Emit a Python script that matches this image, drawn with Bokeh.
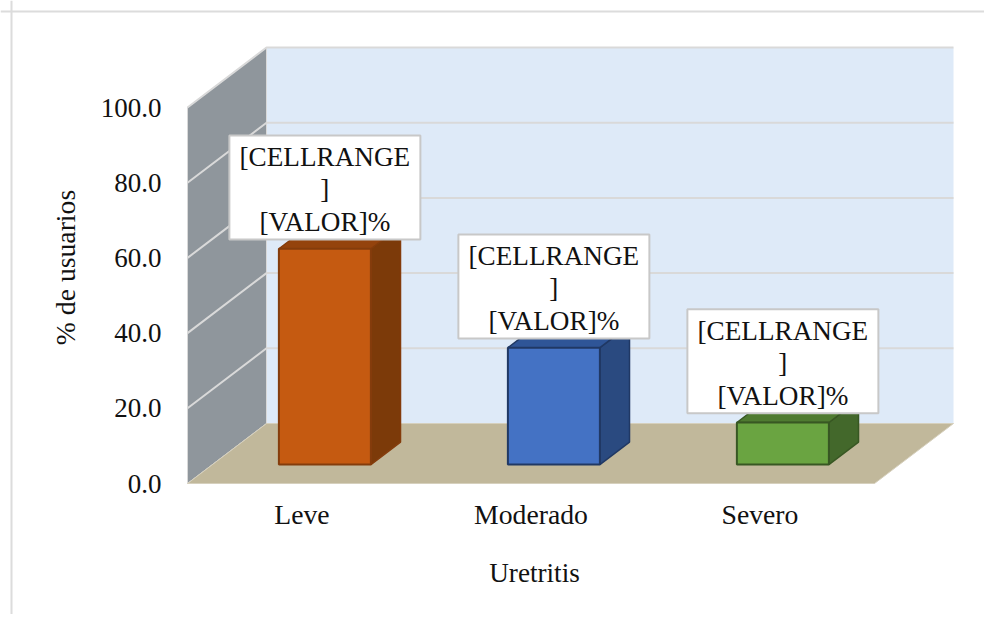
from bokeh.plotting import figure
from bokeh.models import Range1d, LinearAxis, FixedTicker, PrintfTickFormatter, Span
from bokeh.core.properties import value
from bokeh.embed import file_html
from bokeh.resources import INLINE

categories = ["Leve", "Moderado", "Severo"]
values = [57.4, 31.1, 11.2]
y_ticks = [0, 20, 40, 60, 80, 100]
label_lines = ["[CELLRANGE", "]", "[VALOR]%"]
front_colors = ["#c55a11", "#4472c4", "#6aa441"]
side_colors = ["#7c3a09", "#2a4a80", "#43682b"]
top_colors = ["#94430d", "#2f5597", "#4f7b31"]
edge_colors = ["#843c0c", "#203864", "#385723"]

FONT = "Liberation Serif"
PX_X = 229.0        # pixels per category
PX_Y = 3.76         # pixels per percentage point
ORIGIN_X, ORIGIN_Y = 187.0, 483.0   # figure pixels of (0, 0)
W, H = 984, 614

DEPTH_X = 79 / PX_X  # shift of the back plane, in x units
DEPTH_Y = 60 / PX_Y  # shift of the back plane, in y units
N = len(categories)
FLOOR_RIGHT = 687 / PX_X
BAR_W = 92 / PX_X
BAR_SHIFT = -2 / PX_X
BAR_NEAR, BAR_FAR = 0.315, 0.69
Y_MAX = max(y_ticks)


def proj(x, v, d=0.0):
    return x + DEPTH_X * d, v + DEPTH_Y * d


def poly(*pts):
    p3 = [proj(*q) for q in pts]
    return [q[0] for q in p3], [q[1] for q in p3]


p = figure(
    width=W, height=H, output_backend="svg", toolbar_location=None,
    x_range=Range1d(-ORIGIN_X / PX_X, (W - ORIGIN_X) / PX_X),
    y_range=Range1d((ORIGIN_Y - H) / PX_Y, ORIGIN_Y / PX_Y),
    x_axis_type=None, y_axis_type=None, min_border=0,
    outline_line_color=None, background_fill_color="white", border_fill_color="white",
)
p.grid.visible = False

# chart-area border (left and top edges are visible)
p.add_layout(Span(location=-176 / PX_X, dimension="height", line_color="#dcdcdc", line_width=2))
p.add_layout(Span(location=472 / PX_Y, dimension="width", line_color="#dcdcdc", line_width=2))

# back wall
xs, ys = poly((0, 0, 1), (FLOOR_RIGHT, 0, 1), (FLOOR_RIGHT, Y_MAX, 1), (0, Y_MAX, 1))
p.patch(xs, ys, fill_color="#deeaf8", line_color=None)
# side wall
xs, ys = poly((0, 0, 0), (0, 0, 1), (0, Y_MAX, 1), (0, Y_MAX, 0))
p.patch(xs, ys, fill_color="#8f969c", line_color="#d9d9d9", line_width=1)
# floor
xs, ys = poly((0, 0, 0), (FLOOR_RIGHT, 0, 0), (FLOOR_RIGHT, 0, 1), (0, 0, 1))
p.patch(xs, ys, fill_color="#c1b89b", line_color="#d6d0bd", line_width=1)

# gridlines on the walls
for t in y_ticks:
    if t == 0:
        continue
    xs, ys = poly((0, t, 0), (0, t, 1), (FLOOR_RIGHT, t, 1))
    p.line(xs, ys, line_color="#d9d9d9", line_width=2)

# bars
for i, v in enumerate(values):
    c = i + 0.5 + BAR_SHIFT
    x0, x1 = c - BAR_W / 2, c + BAR_W / 2
    xs, ys = poly((x1, 0, BAR_NEAR), (x1, 0, BAR_FAR), (x1, v, BAR_FAR), (x1, v, BAR_NEAR))
    p.patch(xs, ys, fill_color=side_colors[i], line_color=edge_colors[i], line_width=1.5)
    xs, ys = poly((x0, v, BAR_NEAR), (x1, v, BAR_NEAR), (x1, v, BAR_FAR), (x0, v, BAR_FAR))
    p.patch(xs, ys, fill_color=top_colors[i], line_color=edge_colors[i], line_width=1.5)
    xs, ys = poly((x0, 0, BAR_NEAR), (x1, 0, BAR_NEAR), (x1, v, BAR_NEAR), (x0, v, BAR_NEAR))
    p.patch(xs, ys, fill_color=front_colors[i], line_color=edge_colors[i], line_width=2)

# data-label boxes
LIFT = 16.3
cx = [proj(i + 0.5 + BAR_SHIFT, v + LIFT, BAR_NEAR)[0] for i, v in enumerate(values)]
cy = [proj(i + 0.5 + BAR_SHIFT, v + LIFT, BAR_NEAR)[1] for i, v in enumerate(values)]
p.rect(cx, cy, width=191, height=104, width_units="screen", height_units="screen",
       fill_color="white", line_color="#c8c8c8", line_width=2)
for j, line in enumerate(label_lines):
    p.text(cx, cy, text=[line] * N, y_offset=(j - 1) * 32.5 + 2, text_align="center",
           text_baseline="middle", text_font=value(FONT), text_font_size="27.2px",
           text_color="#111111")

# axes
yaxis = LinearAxis(fixed_location=0, ticker=FixedTicker(ticks=y_ticks),
                   formatter=PrintfTickFormatter(format="%.1f"))
xaxis = LinearAxis(fixed_location=0, ticker=FixedTicker(ticks=[i + 0.5 for i in range(N)]),
                   major_label_overrides={i + 0.5: c for i, c in enumerate(categories)})
for ax, standoff, size in ((yaxis, 20, "27px"), (xaxis, 9, "27.7px")):
    ax.axis_line_color = None
    ax.major_tick_line_color = None
    ax.minor_tick_line_color = None
    ax.major_label_text_font = FONT
    ax.major_label_text_font_size = size
    ax.major_label_text_color = "#111111"
    ax.major_label_standoff = standoff
p.add_layout(yaxis, "left")
p.add_layout(xaxis, "below")

# axis titles
p.text([(534 - 187) / PX_X], [(483 - 572) / PX_Y], text=["Uretritis"], text_align="center",
       text_baseline="middle", text_font=value(FONT), text_font_size="27.2px", text_color="#111111")
p.text([(65 - 187) / PX_X], [(483 - 267) / PX_Y], text=["% de usuarios"], angle=1.5708,
       text_align="center", text_baseline="middle", text_font=value(FONT),
       text_font_size="27.7px", text_color="#111111")

open("out.html", "w").write(file_html(p, INLINE))
